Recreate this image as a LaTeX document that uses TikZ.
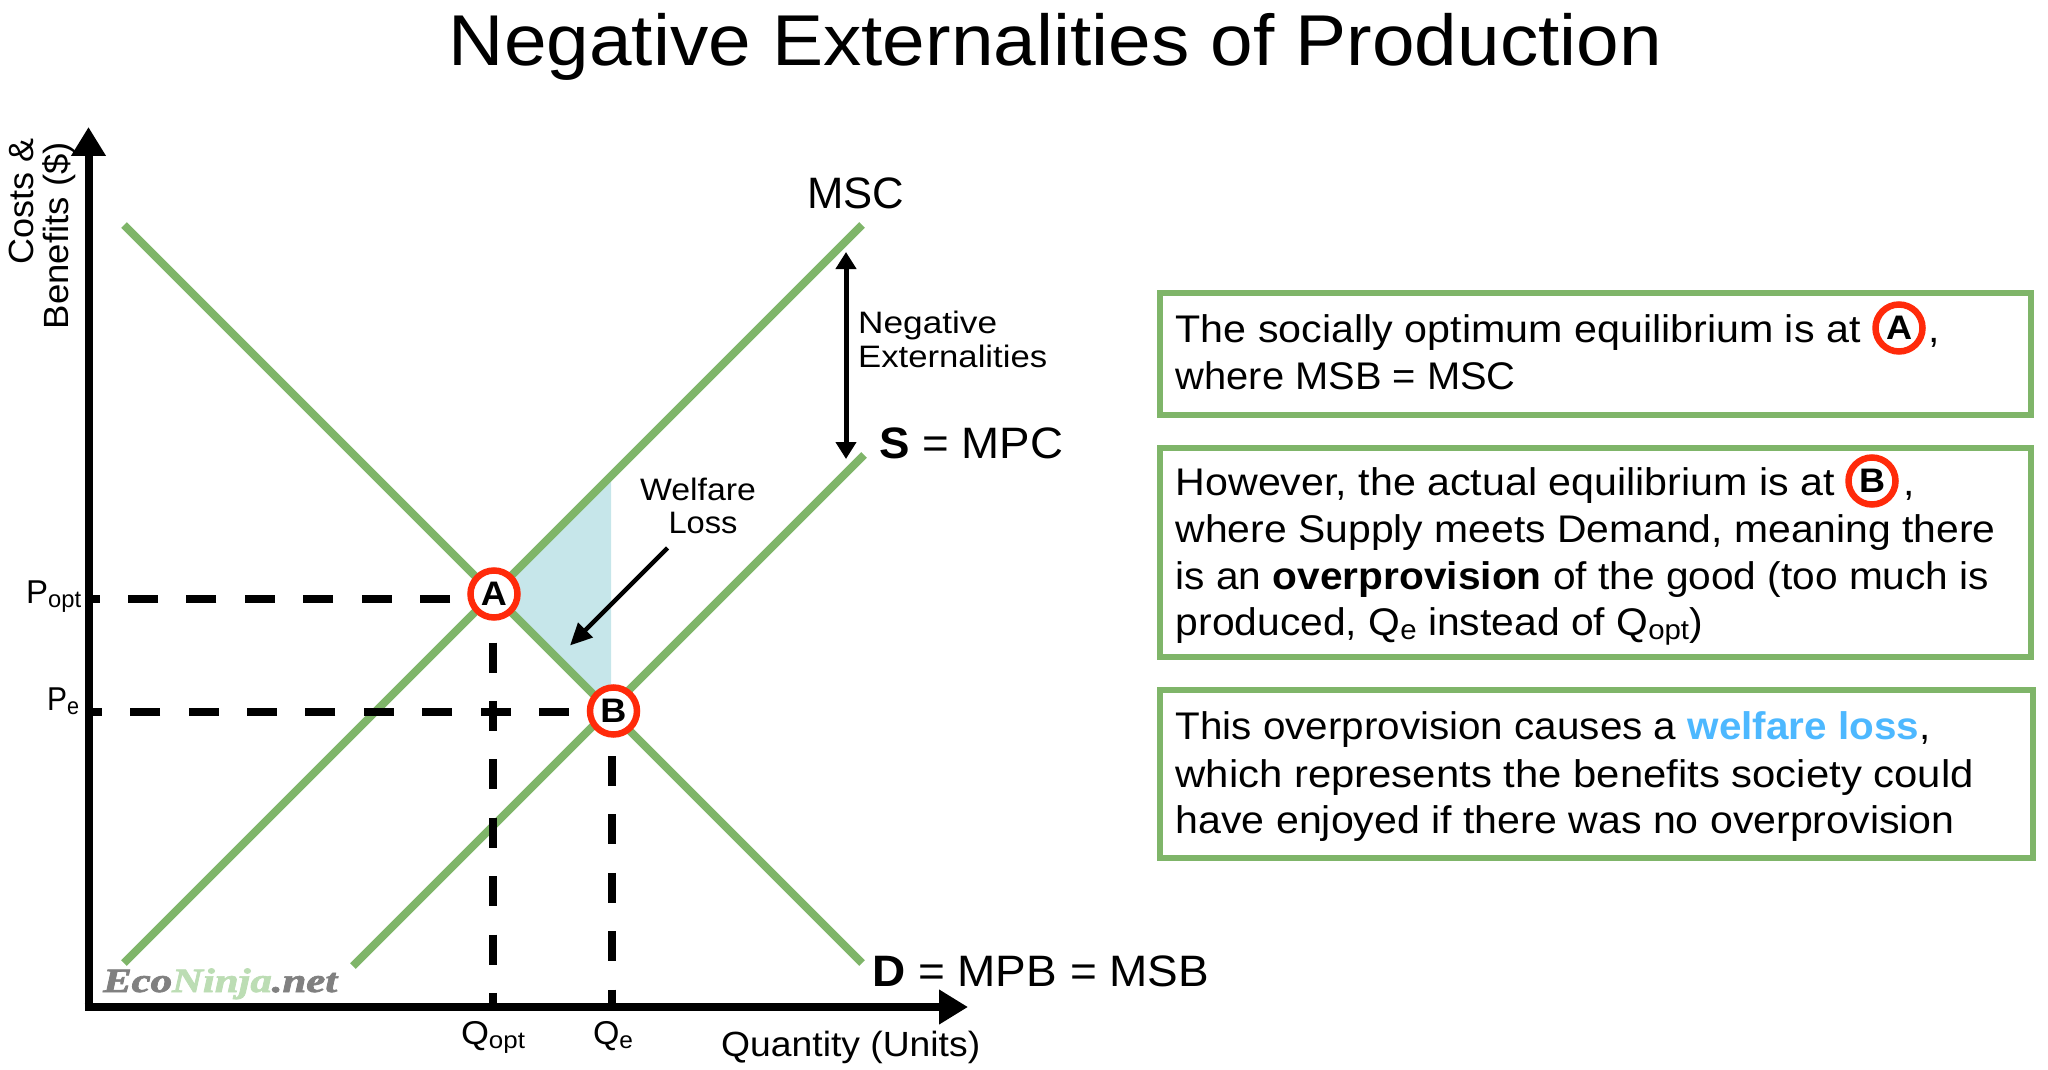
\documentclass[tikz,border=0pt]{standalone}
\usepackage{fontspec}
\usepackage{graphicx}
\usetikzlibrary{arrows.meta}
\setmainfont{Liberation Sans}[FakeStretch=1.06]
\newfontfamily\wmfont{Liberation Serif}[BoldItalicFeatures={FakeBold=2}]
\definecolor{curvegreen}{HTML}{7FB569}
\definecolor{ringred}{HTML}{FF2A0A}
\definecolor{shadeblue}{HTML}{C6E6EA}
\definecolor{lossblue}{HTML}{4DB8FF}
\definecolor{wmgrey}{HTML}{808080}
\definecolor{wmgreen}{HTML}{BCDDB4}
\newcommand{\fsz}[1]{\fontsize{#1}{#1}\selectfont}
\newcommand{\sbs}[1]{\raisebox{-4pt}{\fontsize{0.72em}{1em}\selectfont #1}}
\newcommand{\fitw}[2]{\resizebox{#1pt}{\height}{#2}}
\tikzset{
  curve/.style={draw=curvegreen,line width=8pt},
  axisline/.style={line width=8pt,-{Triangle[length=29pt,width=33pt]}},
  guide/.style={line width=8pt,dash pattern=on 30pt off 28.4pt},
  ptmark/.style={circle,draw=ringred,fill=white,line width=6.5pt,minimum size=47pt,inner sep=0pt,font=\fsz{34}\bfseries},
  infobox/.style={draw=curvegreen,line width=6pt,fill=white,outer sep=0pt,anchor=north west,inner sep=0pt},
  lab/.style={anchor=base,inner sep=0pt,font=\fsz{33}},
  axlab/.style={inner sep=0pt,font=\fsz{35}},
  big/.style={anchor=base west,inner sep=0pt,font=\fsz{44}},
  small/.style={anchor=base,inner sep=0pt,font=\fsz{31},align=center},
  para/.style={anchor=base west,inner sep=0pt,font=\fsz{38.5}},
}
\begin{document}
\begin{tikzpicture}[x=1pt,y=-1pt]
\useasboundingbox (0,0) rectangle (2048,1070);
\node[anchor=base,inner sep=0pt,font=\fsz{72}] (title) at (1055.5,66) {\fitw{1213}{Negative Externalities of Production}};
% coordinates
\coordinate (O) at (88.5,1007);
\coordinate (ytop) at (88.5,127);
\coordinate (xend) at (968,1007);
\coordinate (dTop) at (124,225);
\coordinate (dEnd) at (862,963);
\coordinate (mscLow) at (124,963);
\coordinate (mscTop) at (862,225);
\coordinate (sLow) at (353,966);
\coordinate (sTop) at (864,455);
\coordinate (shA) at (494,593);
\coordinate (shT) at (611,476);
\coordinate (shB) at (611,712);
% welfare loss triangle
\fill[shadeblue] (shA) -- (shT) -- (shB) -- cycle;
% curves
\draw[curve] (dTop) -- (dEnd);
\draw[curve] (mscLow) -- (mscTop);
\draw[curve] (sLow) -- (sTop);
% guides
\coordinate (g1a) at (450,599); \coordinate (g1b) at (92,599);
\coordinate (g2a) at (569,712); \coordinate (g2b) at (92,712);
\coordinate (g3a) at (492.5,642.5); \coordinate (g3b) at (492.5,1004);
\coordinate (g4a) at (612,756); \coordinate (g4b) at (612,1004);
\draw[guide] (g1a) -- (g1b);
\draw[guide] (g2a) -- (g2b);
\draw[guide] (g3a) -- (g3b);
\draw[guide] (g4a) -- (g4b);
% axes
\draw[axisline] (O) -- (ytop);
\draw[axisline] ([xshift=-4pt]O) -- (xend);
% points
\node[ptmark] (A) at (494,594) {A};
\node[ptmark] (B) at (613.5,711) {B};
% arrows
\coordinate (w1) at (667.5,548); \coordinate (w2) at (570,645.5);
\draw[line width=4.5pt,-{Triangle[length=22pt,width=20pt]}] (w1) -- (w2);
\coordinate (n1) at (846,252); \coordinate (n2) at (846,459);
\draw[line width=5pt,{Triangle[length=17pt,width=20pt]}-{Triangle[length=17pt,width=20pt]}] (n1) -- (n2);
% labels
\node[axlab,rotate=90,anchor=base east] (c1) at (33,138) {\fitw{126}{Costs \&}};
\node[axlab,rotate=90,anchor=base east] (c2) at (68,142) {\fitw{187}{Benefits (\$)}};
\node[lab,anchor=base west] (popt) at (26,603) {\fitw{55}{P\sbs{opt}}};
\node[lab,anchor=base west] (pe) at (47,710) {\fitw{32}{P\sbs{e}}};
\node[lab] (qopt) at (493,1044) {\fitw{64}{Q\sbs{opt}}};
\node[lab] (qe) at (613,1044) {\fitw{40}{Q\sbs{e}}};
\node[axlab,anchor=base west] (quant) at (721,1056) {\fitw{259}{Quantity (Units)}};
\node[big] (msc) at (807,208) {\fitw{97}{MSC}};
\node[big] (smpc) at (879,458) {\fitw{184}{\textbf{S} = MPC}};
\node[big] (dmpb) at (872,986) {\fitw{337}{\textbf{D} = MPB = MSB}};
\node[small,anchor=base west] (ne1) at (858,333) {\fitw{139}{Negative}};
\node[small,anchor=base west] (ne2) at (858,367) {\fitw{189}{Externalities}};
\node[small] (wl1) at (698,500) {\fitw{116}{Welfare}};
\node[small] (wl2) at (703,533) {\fitw{69}{Loss}};
\node[anchor=base west,inner sep=0pt,font=\fsz{34}\wmfont\bfseries\itshape] (wm) at (103,992) {\fitw{234}{\textcolor{wmgrey}{Eco}\textcolor{wmgreen}{Ninja}\textcolor{wmgrey}{.net}}};
% boxes
\node[infobox,minimum width=870.5pt,minimum height=122.5pt] (box1) at (1160,292.5) {};
\node[infobox,minimum width=870.5pt,minimum height=209pt] (box2) at (1160,448) {};
\node[infobox,minimum width=873pt,minimum height=168pt] (box3) at (1160,690) {};
% box 1
\node[para] (t1a) at (1175.5,342) {\fitw{685}{The socially optimum equilibrium is at}};
\node[ptmark] (a2) at (1899,328) {A};
\node[para] (t1b) at (1928,342) {,};
\node[para] (t1c) at (1175.5,389) {\fitw{340}{where MSB = MSC}};
% box 2
\node[para] (t2a) at (1175.5,495) {\fitw{659}{However, the actual equilibrium is at}};
\node[ptmark] (b2) at (1872,481) {B};
\node[para] (t2b) at (1903,495) {,};
\node[para] (t2c) at (1175.5,542.5) {\fitw{820}{where Supply meets Demand, meaning there}};
\node[para] (t2d) at (1175.5,589) {\fitw{813.5}{is an \textbf{overprovision} of the good (too much is}};
\node[para] (t2e) at (1175.5,635) {\fitw{527}{produced, Q\sbs{e} instead of Q\sbs{opt})}};
% box 3
\node[para] (t3a) at (1175.5,739) {\fitw{754.5}{This overprovision causes a \textcolor{lossblue}{\textbf{welfare loss}},}};
\node[para] (t3b) at (1175.5,787) {\fitw{798}{which represents the benefits society could}};
\node[para] (t3c) at (1175.5,833) {\fitw{779}{have enjoyed if there was no overprovision}};
\end{tikzpicture}
\end{document}
